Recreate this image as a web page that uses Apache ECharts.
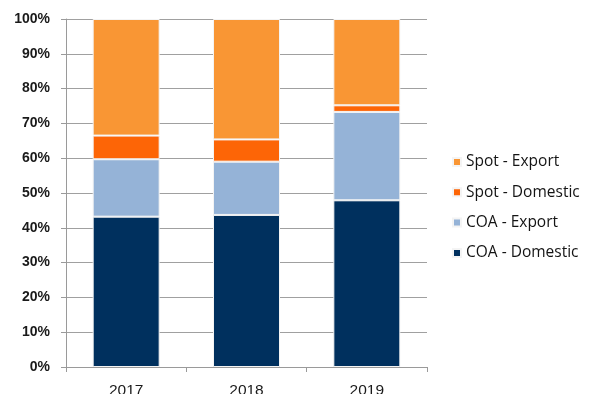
<!DOCTYPE html>
<html>
<head>
<meta charset="utf-8">
<style>
  html, body { margin: 0; padding: 0; background: #ffffff; }
  #chart { width: 598px; height: 394px; }
</style>
<script src="https://cdn.jsdelivr.net/npm/echarts@6/dist/echarts.min.js"></script>
</head>
<body>
<div id="chart"></div>
<script>
// Share of volumes by contract type and destination (percent of total)
const years = ['2017', '2018', '2019'];
const coaDomestic = [43.2, 43.7, 47.9];
const coaExport = [16.5, 15.3, 25.4];
const spotDomestic = [6.8, 6.4, 1.9];
const spotExport = [33.5, 34.6, 24.8];
const legendOrder = ['Spot - Export', 'Spot - Domestic', 'COA - Export', 'COA - Domestic'];

const chart = echarts.init(document.getElementById('chart'), null, { renderer: 'canvas' });

function stackSeries(name, values, color) {
  return {
    name: name,
    type: 'bar',
    stack: 'share',
    barWidth: 67,
    data: values,
    itemStyle: { color: color, borderColor: '#f4f4f4', borderWidth: 1 },
    emphasis: { disabled: true }
  };
}

chart.setOption({
  animation: false,
  backgroundColor: '#ffffff',
  grid: { left: 66, right: 171, top: 19, bottom: 27, containLabel: false, outerBoundsMode: 'none' },
  legend: {
    orient: 'vertical',
    left: 452,
    top: 154,
    padding: 0,
    data: legendOrder,
    icon: 'rect',
    itemWidth: 8,
    itemHeight: 8,
    itemGap: 14.3,
    textStyle: { fontFamily: 'Open Sans', fontSize: 15.5, color: '#141414', lineHeight: 16 },
    selectedMode: false
  },
  xAxis: {
    type: 'category',
    data: years,
    axisLine: { lineStyle: { color: '#9a9a9a', width: 1 } },
    axisTick: { show: true, length: 5, lineStyle: { color: '#9a9a9a' } },
    axisLabel: { margin: 16, fontFamily: 'Liberation Sans', fontSize: 15.5, color: '#1a1a1a' },
    splitLine: { show: false }
  },
  yAxis: {
    type: 'value',
    min: 0,
    max: 100,
    interval: 10,
    axisLine: { show: true, lineStyle: { color: '#9a9a9a', width: 1 } },
    axisTick: { show: true, length: 5, lineStyle: { color: '#9a9a9a' } },
    axisLabel: {
      formatter: '{value}%',
      margin: 16,
      fontFamily: 'Liberation Sans',
      fontSize: 14,
      fontWeight: 'bold',
      color: '#1a1a1a'
    },
    splitLine: { show: true, lineStyle: { color: '#a0a0a0', width: 1 } }
  },
  series: [
    stackSeries('COA - Domestic', coaDomestic, '#00305e'),
    stackSeries('COA - Export', coaExport, '#95b3d7'),
    stackSeries('Spot - Domestic', spotDomestic, '#fd6506'),
    stackSeries('Spot - Export', spotExport, '#f99634')
  ]
});
</script>
</body>
</html>
